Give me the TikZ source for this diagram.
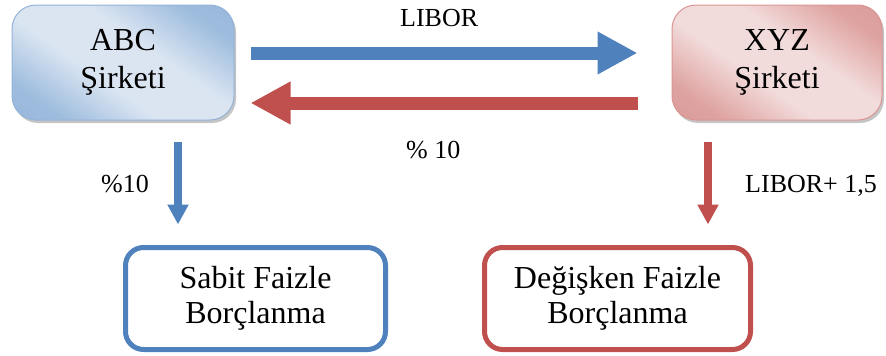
\documentclass[tikz,border=0pt]{standalone}
\usepackage{fontspec}
\setmainfont{Liberation Serif}
\usetikzlibrary{arrows.meta,shadows}

\definecolor{accblue}{HTML}{4F81BD}
\definecolor{accred}{HTML}{C0504D}
\definecolor{blueedge}{HTML}{95B3D7}
\definecolor{rededge}{HTML}{D99694}

% soft diagonal fills for the two company boxes
\pgfdeclarehorizontalshading{blueglow}{100bp}{%
  rgb(0bp)=(0.55,0.68,0.84); rgb(25bp)=(0.62,0.74,0.87);
  rgb(42bp)=(0.86,0.90,0.95); rgb(58bp)=(0.86,0.90,0.95);
  rgb(75bp)=(0.62,0.74,0.87); rgb(100bp)=(0.55,0.68,0.84)}
\pgfdeclarehorizontalshading{redglow}{100bp}{%
  rgb(0bp)=(0.84,0.56,0.55); rgb(25bp)=(0.87,0.64,0.63);
  rgb(42bp)=(0.95,0.86,0.86); rgb(58bp)=(0.95,0.86,0.86);
  rgb(75bp)=(0.87,0.64,0.63); rgb(100bp)=(0.84,0.56,0.55)}

\tikzset{
  company/.style={rounded corners=24pt, align=center, inner sep=0pt,
    font=\fontsize{32}{38}\selectfont, shading angle=55,
    drop shadow={shadow xshift=2pt, shadow yshift=-3pt, fill=black!45, opacity=0.5}},
  loanbox/.style={rounded corners=18pt, align=center, inner sep=0pt,
    line width=5pt, fill=white, font=\fontsize{32}{35}\selectfont},
  flowarrow/.style={line width=13pt, -{Triangle[width=40pt,length=40pt]}},
  downarrow/.style={line width=8pt, -{Triangle[width=20pt,length=20pt]}},
  label/.style={font=\fontsize{26}{30}\selectfont, inner sep=0pt, anchor=base west}
}

\begin{document}
\begin{tikzpicture}[x=1pt,y=-1pt]
\useasboundingbox (0,0) rectangle (886,356);

% company boxes
\node[company, shading=blueglow, draw=blueedge, line width=1pt,
      minimum width=222pt, minimum height=115pt] (abc) at (123,62.5) {ABC\\Şirketi};
\node[company, shading=redglow, draw=rededge, line width=1pt,
      minimum width=210pt, minimum height=115pt] (xyz) at (777,62.5) {XYZ\\Şirketi};

% borrowing boxes
\node[loanbox, draw=accblue, minimum width=260pt, minimum height=102pt]
  (sabit) at (255.5,298.5) {Sabit Faizle\\Borçlanma};
\node[loanbox, draw=accred, minimum width=266pt, minimum height=102pt]
  (degisken) at (617.5,298.5) {Değişken Faizle\\Borçlanma};

% swap flows between the companies
\draw[flowarrow, accblue] ([shift={(16,-9.5)}]abc.east) -- ([shift={(-34,-9.5)}]xyz.west);
\draw[flowarrow, accred] ([shift={(-34,40.5)}]xyz.west) -- ([shift={(16,40.5)}]abc.east);

% flows down to the loans
\path ([shift={(55,21)}]abc.south) coordinate (a1);
\path (a1 |- sabit.north) ++(0,-20.5) coordinate (a1e);
\draw[downarrow, accblue] (a1) -- (a1e);
\path ([shift={(-69,21)}]xyz.south) coordinate (b1);
\path (b1 |- degisken.north) ++(0,-20.5) coordinate (b1e);
\draw[downarrow, accred] (b1) -- (b1e);

% rate labels
\node[label] (lbor) at (400,27) {LIBOR};
\node[label] (lten) at (406,158) {\% 10};
\node[label] (lfix) at (101,192) {\%10};
\node[label] (lflt) at (745,192) {LIBOR+ 1,5};
\end{tikzpicture}
\end{document}
